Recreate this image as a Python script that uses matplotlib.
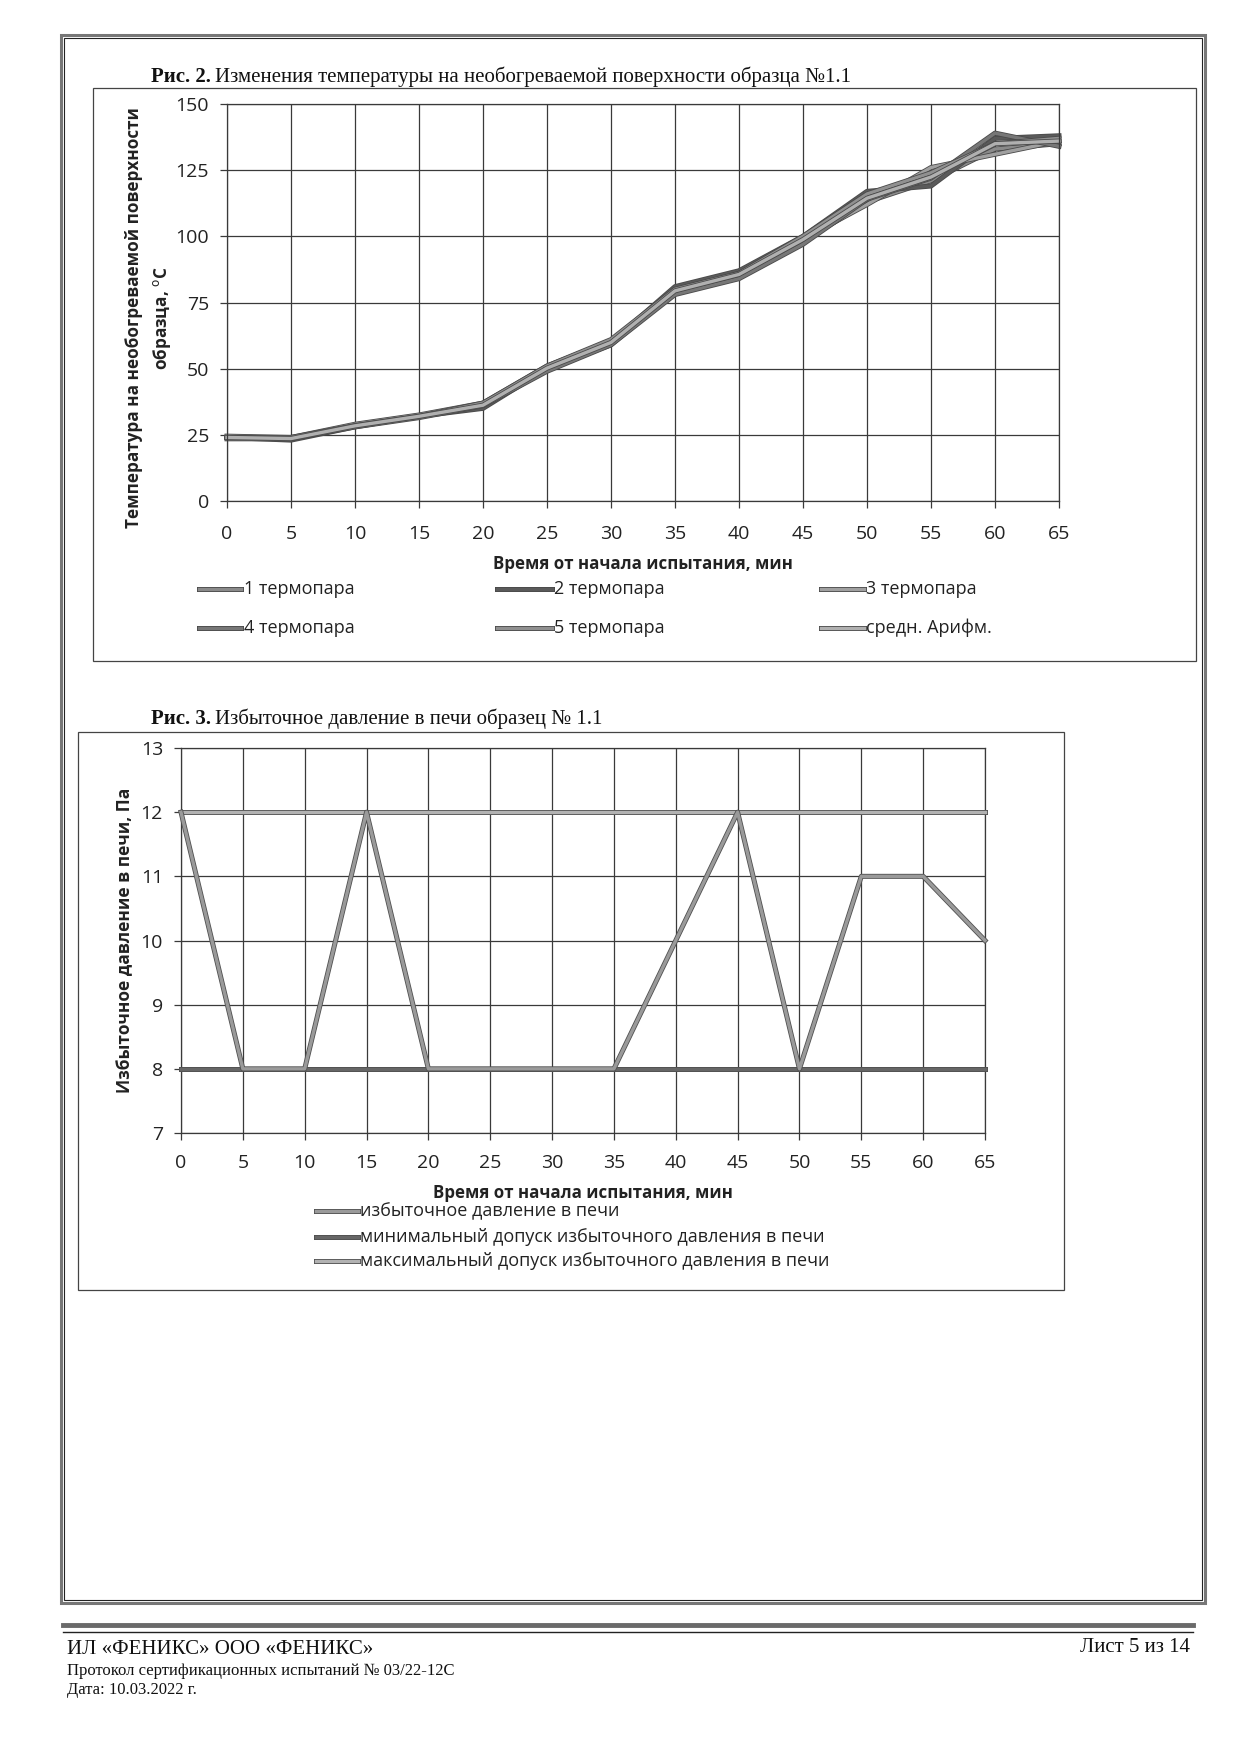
import matplotlib
matplotlib.use("Agg")
import matplotlib.pyplot as plt
import matplotlib.patheffects as pe
from matplotlib.lines import Line2D
from matplotlib.patches import Rectangle

# ---------------- data ----------------
time_min = [0, 5, 10, 15, 20, 25, 30, 35, 40, 45, 50, 55, 60, 65]

t1 = [24, 23.5, 28.5, 32, 36, 50, 59, 79, 85, 98, 113, 121, 133, 135]
t2 = [24, 23, 28, 32, 35, 50, 60, 81, 87, 100, 117, 119, 137, 138]
t3 = [24.5, 24, 29, 32.5, 37, 51, 60.5, 79, 86, 99, 112, 126, 131, 136]
t4 = [23.5, 23.5, 28, 31.5, 36, 49, 59, 78, 84, 97, 114, 122, 139, 134]
t5 = [24, 24, 28.5, 32, 37, 51, 61, 80, 86, 100, 116, 124, 135, 137]
t_avg = [24, 23.6, 28.4, 32, 36.2, 50.2, 59.9, 79.4, 85.6, 98.8, 114.4, 122.4, 135, 136]

temp_labels = ["1 термопара", "2 термопара", "3 термопара",
               "4 термопара", "5 термопара", "средн. Арифм."]

pressure = [12, 8, 8, 12, 8, 8, 8, 8, 10, 12, 8, 11, 11, 10]
p_min = [8] * 14
p_max = [12] * 14
press_labels = ["избыточное давление в печи",
                "минимальный допуск избыточного давления в печи",
                "максимальный допуск избыточного давления в печи"]

temp_yticks = [0, 25, 50, 75, 100, 125, 150]
press_yticks = [7, 8, 9, 10, 11, 12, 13]

# ---------------- figure ----------------
W, H = 1240, 1753
fig = plt.figure(figsize=(W / 100, H / 100), dpi=100)
fig.patch.set_facecolor("white")

SANS = ["Open Sans", "DejaVu Sans"]
SERIF = ["Liberation Serif", "DejaVu Serif"]
GRID = "#3a3a3a"


def fx(x):
    return x / W


def fy(y):
    return 1 - y / H


def rect(x0, y0, x1, y1, lw, color):
    fig.add_artist(Rectangle((fx(x0), fy(y1)), fx(x1) - fx(x0), fy(y0) - fy(y1),
                             fill=False, lw=lw, edgecolor=color,
                             transform=fig.transFigure))


def hline(x0, x1, y, lw, color):
    fig.add_artist(Line2D([fx(x0), fx(x1)], [fy(y), fy(y)], lw=lw, color=color,
                          transform=fig.transFigure))


# page border (double)
rect(61, 35, 1205, 1603, 2.2, "#777777")
rect(64, 38, 1202, 1600, 0.8, "#222222")
# chart frames
rect(93, 88, 1196, 661, 0.9, "#444444")
rect(78, 732, 1064, 1290, 0.9, "#444444")
# footer lines
hline(63, 1193, 1625, 3.5, "#6a6a6a")
hline(63, 1193, 1632, 1.0, "#222222")

renderer = fig.canvas.get_renderer()


def title(x, y, bold_part, rest, size):
    t = fig.text(fx(x), fy(y), bold_part, family=SERIF, fontsize=size,
                 fontweight="bold", va="center", ha="left", color="#111111")
    bb = t.get_window_extent(renderer=renderer)
    fig.text(bb.x1 / W + 0.003, fy(y), rest, family=SERIF, fontsize=size,
             va="center", ha="left", color="#111111")


title(151, 77, "Рис. 2.", "Изменения температуры на необогреваемой поверхности образца №1.1", 15)
title(151, 719, "Рис. 3.", "Избыточное давление в печи образец № 1.1", 15)


def style_axes(ax):
    ax.grid(True, color=GRID, lw=0.9)
    ax.set_axisbelow(True)
    for s in ax.spines.values():
        s.set_color(GRID)
        s.set_linewidth(0.9)
    ax.tick_params(axis="both", direction="out", length=5, width=0.9,
                   color=GRID, labelsize=14, labelcolor="#222222")
    for lab in ax.get_xticklabels() + ax.get_yticklabels():
        lab.set_family(SANS)


LINE_FX = [pe.Stroke(linewidth=3.6, foreground="#4a4a4a"), pe.Normal()]

# ---------------- chart 1 ----------------
ax1 = fig.add_axes([fx(227), fy(501), fx(1059) - fx(227), fy(104) - fy(501)])
ax1.set_xlim(0, 65)
ax1.set_ylim(0, 150)
ax1.set_xticks(time_min)
ax1.set_yticks(temp_yticks)
style_axes(ax1)
ax1.tick_params(axis="x", pad=12)
ax1.tick_params(axis="y", pad=8)

temp_series = [t1, t2, t3, t4, t5, t_avg]
temp_colors = ["#8a8a8a", "#5a5a5a", "#a0a0a0", "#777777", "#909090", "#b0b0b0"]
for ser, col in zip(temp_series, temp_colors):
    ax1.plot(time_min, ser, color=col, lw=2.4, solid_joinstyle="round",
             path_effects=LINE_FX, clip_on=False)

fig.text(fx(643), fy(564), "Время от начала испытания, мин", family=SANS,
         fontsize=12.2, fontweight="bold", ha="center", va="center", color="#222222")
fig.text(fx(134), fy(318), "Температура на необогреваемой поверхности",
         family=SANS, fontsize=12.3, fontweight="bold", rotation=90,
         ha="center", va="center", color="#222222")
fig.text(fx(162), fy(318), "образца, $^{\\mathrm{o}}$С",
         family=SANS, fontsize=12.3, fontweight="bold", rotation=90,
         ha="center", va="center", color="#222222")

# legend chart 1 (manual Excel-style layout)
leg1_cols = [(199, 241, 244), (497, 552, 554), (821, 864, 866)]
leg1_rows = [589, 628]
for i, (lab, col) in enumerate(zip(temp_labels, temp_colors)):
    r, c = divmod(i, 3)
    x0, x1, xt = leg1_cols[c]
    y = leg1_rows[r]
    fig.add_artist(Line2D([fx(x0), fx(x1)], [fy(y), fy(y)], lw=2.4, color=col,
                          transform=fig.transFigure, path_effects=LINE_FX))
    fig.text(fx(xt), fy(y), lab, family=SANS, fontsize=13, ha="left",
             va="center", color="#222222")

# ---------------- chart 2 ----------------
ax2 = fig.add_axes([fx(181), fy(1133), fx(985) - fx(181), fy(748) - fy(1133)])
ax2.set_xlim(0, 65)
ax2.set_ylim(7, 13)
ax2.set_xticks(time_min)
ax2.set_yticks(press_yticks)
style_axes(ax2)
ax2.tick_params(axis="x", pad=10)
ax2.tick_params(axis="y", pad=8)

press_series = [pressure, p_min, p_max]
press_colors = ["#9a9a9a", "#666666", "#b2b2b2"]
press_z = [4, 3, 3]
for ser, col, z in zip(press_series, press_colors, press_z):
    ax2.plot(time_min, ser, color=col, lw=2.4, zorder=z, solid_joinstyle="round",
             path_effects=[pe.Stroke(linewidth=3.6, foreground="#505050"), pe.Normal()],
             clip_on=False)

fig.text(fx(583), fy(1193), "Время от начала испытания, мин", family=SANS,
         fontsize=12.2, fontweight="bold", ha="center", va="center", color="#222222")
fig.text(fx(125), fy(940), "Избыточное давление в печи, Па",
         family=SANS, fontsize=12.5, fontweight="bold", rotation=90,
         ha="center", va="center", color="#222222")

leg2_rows = [1211, 1237, 1261]
for lab, col, y in zip(press_labels, press_colors, leg2_rows):
    fig.add_artist(Line2D([fx(316), fx(358)], [fy(y), fy(y)], lw=2.4, color=col,
                          transform=fig.transFigure,
                          path_effects=[pe.Stroke(linewidth=3.6, foreground="#505050"), pe.Normal()]))
    fig.text(fx(360), fy(y), lab, family=SANS, fontsize=13, ha="left",
             va="center", color="#222222")

# ---------------- footer ----------------
fig.text(fx(67), fy(1649), "ИЛ «ФЕНИКС» ООО «ФЕНИКС»", family=SERIF,
         fontsize=15, ha="left", va="center", color="#111111")
fig.text(fx(67), fy(1671), "Протокол сертификационных испытаний № 03/22-12С",
         family=SERIF, fontsize=12, ha="left", va="center", color="#111111")
fig.text(fx(67), fy(1690), "Дата: 10.03.2022 г.", family=SERIF,
         fontsize=12, ha="left", va="center", color="#111111")
fig.text(fx(1190), fy(1647), "Лист 5 из 14", family=SERIF,
         fontsize=15, ha="right", va="center", color="#111111")

fig.savefig("out.png", dpi=100, facecolor="white")
